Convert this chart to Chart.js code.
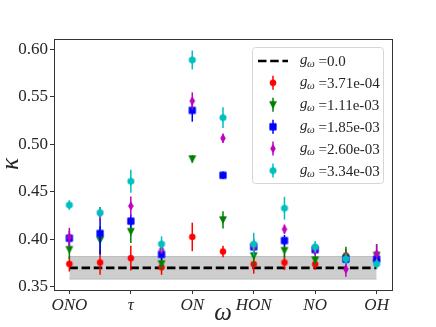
<!DOCTYPE html>
<html>
<head>
<meta charset="utf-8">
<script src="https://cdn.jsdelivr.net/npm/chart.js@4.4.0/dist/chart.umd.min.js"></script>
<style>
  html, body { margin: 0; padding: 0; background: #fff; }
</style>
</head>
<body>
<canvas id="chart" width="436" height="327"></canvas>
<script>
// categories on the x axis (only every second one gets a label)
const categories = ["ONO", "", "τ", "", "ON", "", "HON", "", "NO", "", "OH"];
const yTicks = [0.35, 0.4, 0.45, 0.5, 0.55, 0.6];

// coupling values used in the legend
const couplings = ["3.71e-04", "1.11e-03", "1.85e-03", "2.60e-03", "3.34e-03"];

// kappa per category, one array per coupling, plus the error sizes
const kappaRed = [0.374, 0.3755, 0.380, 0.3705, 0.4024, 0.387, 0.3737, 0.3755, 0.3737, 0.3828, 0.378];
const errRed = [0.008, 0.013, 0.013, 0.008, 0.015, 0.006, 0.010, 0.008, 0.006, 0.007, 0.008];
const kappaGreen = [0.389, 0.399, 0.408, 0.374, 0.4845, 0.4203, 0.3824, 0.388, 0.378, 0.380, 0.383];
const errGreen = [0.010, 0.015, 0.012, 0.006, 0.004, 0.009, 0.010, 0.008, 0.005, 0.012, 0.012];
const kappaBlue = [0.401, 0.406, 0.419, 0.384, 0.5357, 0.4673, 0.392, 0.3985, 0.389, 0.379, 0.379];
const errBlue = [0.008, 0.022, 0.007, 0.006, 0.012, 0.004, 0.008, 0.006, 0.006, 0.006, 0.006];
const kappaMagenta = [0.402, 0.427, 0.435, 0.389, 0.5456, 0.5063, 0.3916, 0.4105, 0.389, 0.3684, 0.3846];
const errMagenta = [0.010, 0.007, 0.010, 0.004, 0.009, 0.005, 0.006, 0.005, 0.006, 0.008, 0.010];
const kappaCyan = [0.436, 0.428, 0.461, 0.395, 0.5887, 0.528, 0.3948, 0.4326, 0.392, 0.3793, 0.374];
const errCyan = [0.005, 0.006, 0.012, 0.008, 0.010, 0.011, 0.012, 0.012, 0.006, 0.006, 0.005];

// g = 0 reference value and its uncertainty band
const baseline = 0.3698;
const bandLow = 0.358;
const bandHigh = 0.3817;

const SERIF = "'Liberation Serif', 'DejaVu Serif', serif";
const TEXT = "#262626";

// small canvases used as point markers
function makeMarker(shape, color) {
  const c = document.createElement("canvas");
  c.width = 12;
  c.height = 12;
  const g = c.getContext("2d");
  g.fillStyle = color;
  g.strokeStyle = color;
  g.lineWidth = 0.8;
  g.beginPath();
  if (shape === "circle") {
    g.arc(6, 6, 3, 0, Math.PI * 2);
  } else if (shape === "tri") {
    g.moveTo(2.6, 2.8);
    g.lineTo(9.4, 2.8);
    g.lineTo(6, 9.4);
    g.closePath();
  } else if (shape === "square") {
    g.rect(2.8, 2.8, 6.4, 6.4);
  } else if (shape === "thin") {
    g.moveTo(6, 2);
    g.lineTo(8.4, 6);
    g.lineTo(6, 10);
    g.lineTo(3.6, 6);
    g.closePath();
  } else if (shape === "hex") {
    for (let k = 0; k < 6; k++) {
      const a = Math.PI / 2 + (k * Math.PI) / 3;
      const px = 6 + 3.5 * Math.cos(a);
      const py = 6 + 3.5 * Math.sin(a);
      if (k === 0) g.moveTo(px, py);
      else g.lineTo(px, py);
    }
    g.closePath();
  }
  g.fill();
  g.stroke();
  return c;
}

const series = [
  { values: kappaRed, errors: errRed, color: "#ff0000", shape: "circle" },
  { values: kappaGreen, errors: errGreen, color: "#008000", shape: "tri" },
  { values: kappaBlue, errors: errBlue, color: "#0000ff", shape: "square" },
  { values: kappaMagenta, errors: errMagenta, color: "#bf00bf", shape: "thin" },
  { values: kappaCyan, errors: errCyan, color: "#00bfbf", shape: "hex" },
];
series.forEach((s) => (s.marker = makeMarker(s.shape, s.color)));

const first = 0;
const last = categories.length - 1;

const datasets = [];
// band (drawn first)
datasets.push({
  label: "bandHigh",
  data: [{ x: first, y: bandHigh }, { x: last, y: bandHigh }],
  showLine: true,
  borderColor: "#bdbdbd",
  borderWidth: 1,
  backgroundColor: "#cdcdcd",
  pointRadius: 0,
  fill: "+1",
  order: 20,
});
datasets.push({
  label: "bandLow",
  data: [{ x: first, y: bandLow }, { x: last, y: bandLow }],
  showLine: true,
  borderColor: "#bdbdbd",
  borderWidth: 1,
  pointRadius: 0,
  fill: false,
  order: 19,
});
datasets.push({
  label: "g=0.0",
  data: [{ x: first, y: baseline }, { x: last, y: baseline }],
  showLine: true,
  borderColor: "#000000",
  borderWidth: 2.7,
  borderDash: [8.5, 3.7],
  pointRadius: 0,
  fill: false,
  order: 18,
});
series.forEach((s, i) => {
  datasets.push({
    label: "g=" + couplings[i],
    data: s.values.map((v, k) => ({ x: k, y: v })),
    errors: s.errors,
    errColor: s.color,
    showLine: false,
    pointStyle: s.marker,
    pointRadius: 4,
    backgroundColor: s.color,
    borderColor: s.color,
    order: 10 - i,
  });
});

// vertical error bars drawn just before each series' markers
const errorBars = {
  id: "errorBars",
  beforeDatasetDraw(chart, args) {
    const ds = chart.data.datasets[args.index];
    if (!ds.errors) return;
    const ctx = chart.ctx;
    const xs = chart.scales.x;
    const ys = chart.scales.y;
    ctx.save();
    ctx.strokeStyle = ds.errColor;
    ctx.lineWidth = 1.5;
    ds.data.forEach((p, k) => {
      const px = xs.getPixelForValue(p.x);
      ctx.beginPath();
      ctx.moveTo(px, ys.getPixelForValue(p.y - ds.errors[k]));
      ctx.lineTo(px, ys.getPixelForValue(p.y + ds.errors[k]));
      ctx.stroke();
    });
    ctx.restore();
  },
};

// frame, axis titles and legend
const decorations = {
  id: "decorations",
  afterDatasetsDraw(chart) {
    const ctx = chart.ctx;
    const a = chart.chartArea;
    ctx.save();
    ctx.strokeStyle = "#333333";
    ctx.lineWidth = 1;
    ctx.strokeRect(Math.round(a.left) + 0.5, Math.round(a.top) + 0.5,
      Math.round(a.right - a.left), Math.round(a.bottom - a.top));
    ctx.restore();
  },
  afterDraw(chart) {
    const ctx = chart.ctx;
    ctx.save();
    ctx.fillStyle = TEXT;
    // y title
    ctx.font = "italic 25px " + SERIF;
    ctx.textAlign = "center";
    ctx.textBaseline = "middle";
    ctx.save();
    ctx.translate(11, 164);
    ctx.rotate(-Math.PI / 2);
    ctx.fillText("κ", 0, 0);
    ctx.restore();
    // x title
    ctx.fillText("ω", 223, 313);

    // legend box
    const bx = 252.5, by = 47.5, bw = 131, bh = 136;
    ctx.beginPath();
    ctx.roundRect(bx, by, bw, bh, 3);
    ctx.fillStyle = "rgba(255,255,255,0.8)";
    ctx.fill();
    ctx.strokeStyle = "#d6d6d6";
    ctx.lineWidth = 1;
    ctx.stroke();

    const rows = [61, 82.8, 104.8, 126.8, 148.6, 170.6];
    const labels = ["0.0"].concat(couplings);
    rows.forEach((ry, i) => {
      if (i === 0) {
        ctx.save();
        ctx.strokeStyle = "#000";
        ctx.lineWidth = 2.7;
        ctx.setLineDash([8.5, 3.7]);
        ctx.beginPath();
        ctx.moveTo(258, ry);
        ctx.lineTo(288, ry);
        ctx.stroke();
        ctx.restore();
      } else {
        const s = series[i - 1];
        ctx.strokeStyle = s.color;
        ctx.lineWidth = 1.5;
        ctx.beginPath();
        ctx.moveTo(273, ry - 7);
        ctx.lineTo(273, ry + 7);
        ctx.stroke();
        ctx.drawImage(s.marker, 273 - 6, ry - 6);
      }
      ctx.fillStyle = TEXT;
      ctx.textAlign = "left";
      ctx.textBaseline = "alphabetic";
      ctx.font = "italic 15px " + SERIF;
      ctx.fillText("g", 300, ry + 3);
      ctx.font = "italic 11px " + SERIF;
      ctx.fillText("ω", 307, ry + 6);
      ctx.font = "15px " + SERIF;
      ctx.fillText("=" + labels[i], 318.5, ry + 5);
    });
    ctx.restore();
  },
};

new Chart(document.getElementById("chart"), {
  type: "scatter",
  data: { datasets: datasets },
  options: {
    responsive: false,
    animation: false,
    devicePixelRatio: 1,
    layout: { padding: { top: 39, right: 44, left: 0, bottom: 0 } },
    plugins: {
      legend: { display: false },
      tooltip: { enabled: false },
    },
    scales: {
      x: {
        type: "linear",
        min: first - 0.5,
        max: last + 0.5,
        afterBuildTicks: (scale) => {
          scale.ticks = categories
            .map((c, k) => ({ value: k }))
            .filter((t) => categories[t.value] !== "");
        },
        afterFit: (scale) => {
          scale.height = 37;
        },
        grid: { drawOnChartArea: false, tickLength: 4, color: "#333333" },
        border: { display: false },
        ticks: {
          padding: 1,
          maxRotation: 0,
          autoSkip: false,
          color: TEXT,
          font: { family: SERIF, size: 17, style: "italic" },
          callback: (v) => categories[v],
        },
      },
      y: {
        min: 0.3465,
        max: 0.6108,
        afterBuildTicks: (scale) => {
          scale.ticks = yTicks.map((v) => ({ value: v }));
        },
        afterFit: (scale) => {
          scale.width = 54;
        },
        grid: { drawOnChartArea: false, tickLength: 4, color: "#333333" },
        border: { display: false },
        ticks: {
          padding: 2,
          color: TEXT,
          font: { family: SERIF, size: 17 },
          callback: (v) => v.toFixed(2),
        },
      },
    },
  },
  plugins: [errorBars, decorations],
});
</script>
</body>
</html>
